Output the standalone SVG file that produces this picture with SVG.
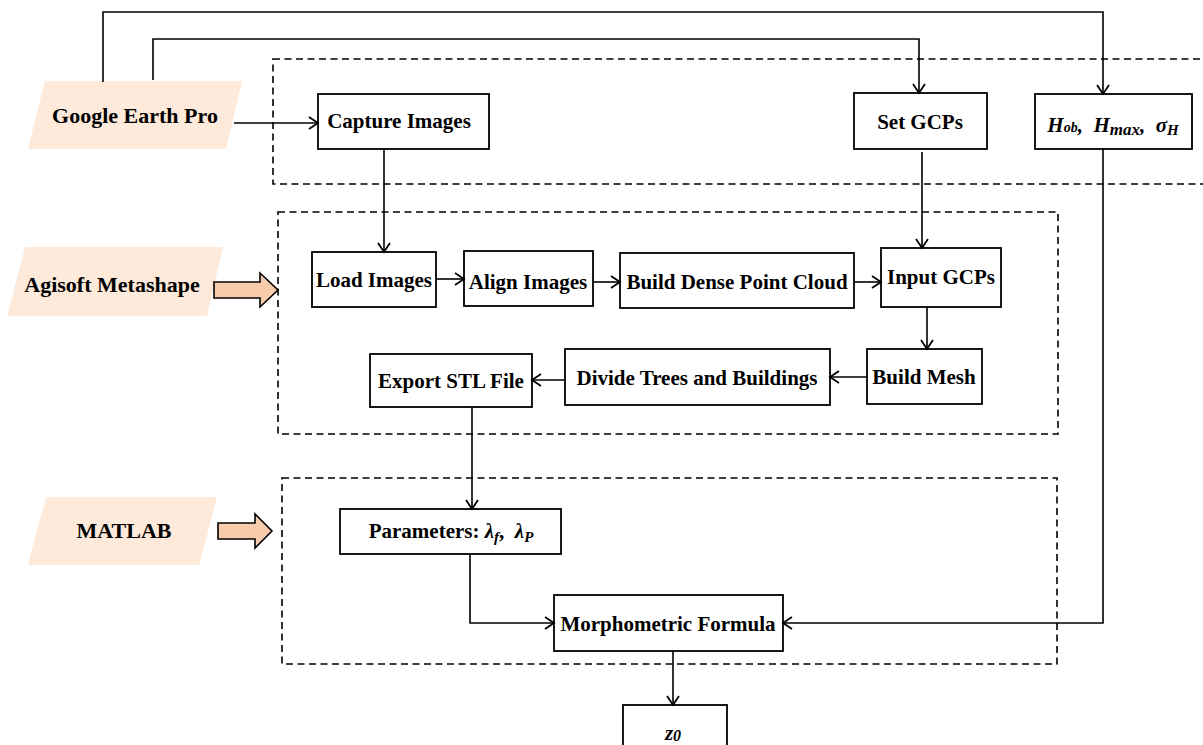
<svg xmlns="http://www.w3.org/2000/svg" width="1203" height="745" viewBox="0 0 1203 745">
<defs>
<marker id="ah" markerUnits="userSpaceOnUse" markerWidth="14" markerHeight="14" refX="11" refY="7" orient="auto">
<path d="M2,1 L11,7 L2,13" fill="none" stroke="#000" stroke-width="1.8"/>
</marker>
</defs>
<style>
.box{fill:#fff;stroke:#000;stroke-width:1.8}
.grp{fill:none;stroke:#000;stroke-width:1.6;stroke-dasharray:7 4.5}
.src{fill:#fdeada;stroke:none}
.blk{fill:#f8cbad;stroke:#000;stroke-width:1.6}
.con{fill:none;stroke:#000;stroke-width:1.6}
.arr{fill:none;stroke:#000;stroke-width:1.6;marker-end:url(#ah)}
text{font-family:"Liberation Serif","Times New Roman",serif;font-weight:bold;font-size:21px;text-anchor:middle;fill:#000}
.lbl{font-size:22px}
.it{font-style:italic}
</style>
<rect width="1203" height="745" fill="#fff"/>

<g id="groups">
<rect class="grp" x="273" y="59" width="945" height="125"/>
<rect class="grp" x="278" y="212" width="780" height="222"/>
<rect class="grp" x="282" y="478" width="775" height="186"/>
</g>

<g id="google-earth-pro">
<polygon class="src" points="45,81 242,81 226,149 28,149"/>
<text class="lbl" x="135" y="123">Google Earth Pro</text>
</g>
<g id="agisoft-metashape">
<polygon class="src" points="25,247 223,247 207,316 7,316"/>
<text class="lbl" x="112" y="292">Agisoft Metashape</text>
<polygon class="blk" points="214,282 260,282 260,273 278,290 260,307 260,298 214,298"/>
</g>
<g id="matlab">
<polygon class="src" points="46,497 217,497 199,565 28,565"/>
<text class="lbl" x="124" y="538">MATLAB</text>
<polygon class="blk" points="218,523 255,523 255,514 272,531 255,548 255,539 218,539"/>
</g>

<g id="capture-images">
<rect class="box" x="318" y="94" width="171" height="55"/>
<text x="399" y="128">Capture Images</text>
</g>
<g id="set-gcps">
<rect class="box" x="854" y="93" width="133" height="56"/>
<text x="920" y="129">Set GCPs</text>
</g>
<g id="h-params">
<rect class="box" x="1035" y="94" width="157" height="55"/>
<text x="1113" y="132" class="it" xml:space="preserve"><tspan>H</tspan><tspan font-size="14">ob</tspan><tspan>,  H</tspan><tspan font-size="17" dy="3">max</tspan><tspan dy="-3">,  σ</tspan><tspan font-size="15" dy="3">H</tspan></text>
</g>
<g id="load-images">
<rect class="box" x="312" y="252" width="124" height="55"/>
<text x="374" y="287">Load Images</text>
</g>
<g id="align-images">
<rect class="box" x="464" y="251" width="129" height="55"/>
<text x="528" y="289">Align Images</text>
</g>
<g id="build-dense-point-cloud">
<rect class="box" x="620" y="253" width="234" height="55"/>
<text x="737" y="289">Build Dense Point Cloud</text>
</g>
<g id="input-gcps">
<rect class="box" x="881" y="248" width="120" height="59"/>
<text x="941" y="284">Input GCPs</text>
</g>
<g id="build-mesh">
<rect class="box" x="867" y="349" width="115" height="55"/>
<text x="924" y="384">Build Mesh</text>
</g>
<g id="divide-trees-and-buildings">
<rect class="box" x="565" y="349" width="265" height="56"/>
<text x="697" y="385">Divide Trees and Buildings</text>
</g>
<g id="export-stl-file">
<rect class="box" x="370" y="354" width="162" height="53"/>
<text x="451" y="388">Export STL File</text>
</g>
<g id="parameters">
<rect class="box" x="340" y="509" width="221" height="45"/>
<text x="451" y="538" xml:space="preserve"><tspan>Parameters: </tspan><tspan class="it">λ</tspan><tspan class="it" font-size="15" dy="4">f</tspan><tspan dy="-4">,  </tspan><tspan class="it">λ</tspan><tspan class="it" font-size="15" dy="4">P</tspan></text>
</g>
<g id="morphometric-formula">
<rect class="box" x="554" y="595" width="229" height="56"/>
<text x="668" y="631">Morphometric Formula</text>
</g>
<g id="z0">
<rect class="box" x="623" y="705" width="104" height="45"/>
<text x="673" y="740" class="it" font-size="23">z<tspan font-size="16" dy="1">0</tspan></text>
</g>

<g id="connectors">
<polyline class="arr" points="103,82 103,12 1103,12 1103,94"/>
<polyline class="arr" points="153,80 153,39 919,39 919,93"/>
<line class="arr" x1="234" y1="123" x2="318" y2="123"/>
<line class="arr" x1="384" y1="149" x2="384" y2="252"/>
<line class="arr" x1="922" y1="152" x2="922" y2="248"/>
<line class="arr" x1="436" y1="279" x2="464" y2="279"/>
<line class="arr" x1="593" y1="282" x2="620" y2="282"/>
<line class="arr" x1="854" y1="282" x2="881" y2="282"/>
<line class="arr" x1="927" y1="307" x2="927" y2="349"/>
<line class="arr" x1="867" y1="377" x2="830" y2="377"/>
<line class="arr" x1="565" y1="380" x2="532" y2="380"/>
<line class="arr" x1="472" y1="407" x2="472" y2="509"/>
<polyline class="arr" points="470,554 470,623 554,623"/>
<polyline class="arr" points="1103,149 1103,623 783,623"/>
<line class="arr" x1="673" y1="651" x2="673" y2="705"/>
</g>
</svg>
